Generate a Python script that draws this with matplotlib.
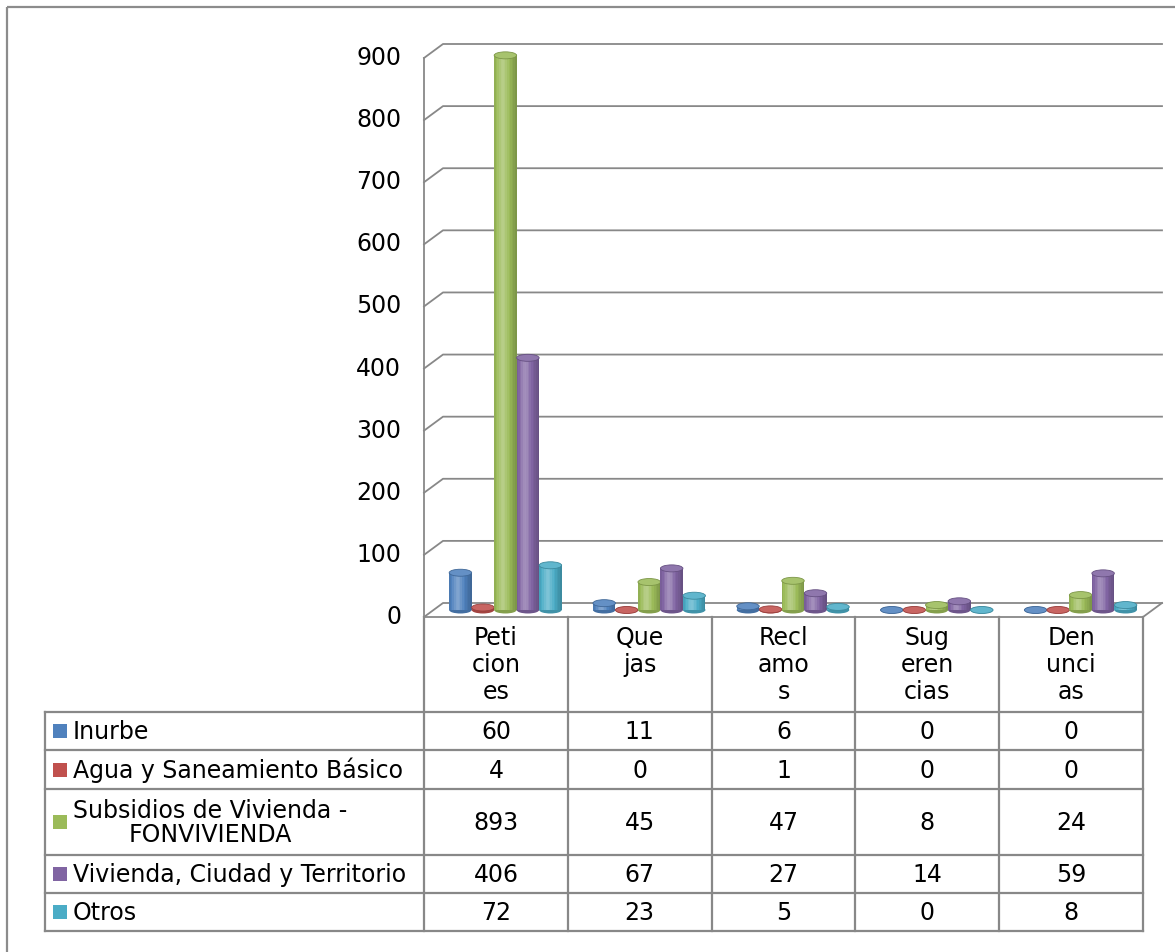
import numpy as np
import matplotlib
matplotlib.use("Agg")
import matplotlib.pyplot as plt
from matplotlib.patches import Ellipse, Rectangle
from matplotlib.colors import to_rgb

categories = ["Peticiones", "Quejas", "Reclamos", "Sugerencias", "Denuncias"]
cat_labels = ["Peti\ncion\nes", "Que\njas", "Recl\namo\ns", "Sug\neren\ncias", "Den\nunci\nas"]
series = ["Inurbe", "Agua y Saneamiento Básico", "Subsidios de Vivienda -\nFONVIVIENDA",
          "Vivienda, Ciudad y Territorio", "Otros"]
inurbe = [60, 11, 6, 0, 0]
agua = [4, 0, 1, 0, 0]
subsidios = [893, 45, 47, 8, 24]
vivienda = [406, 67, 27, 14, 59]
otros = [72, 23, 5, 0, 8]
values = [inurbe, agua, subsidios, vivienda, otros]
colors = ["#4F81BD", "#C0504D", "#9BBB59", "#8064A2", "#4BACC6"]
yticks = list(range(0, 1000, 100))

plt.rcParams['font.family'] = ['DejaVu Sans']
W, H = 1175, 952
FS = 17
fig = plt.figure(figsize=(W / 100, H / 100), dpi=100)

# layout in pixels (front plane of the 3d box)
X0, X1 = 424, 1143
Y0, YT = 617, 58
DX, DY = 19, 14
GRID = "#888888"

frame = fig.add_axes([0, 0, 1, 1])
frame.set_xlim(0, W)
frame.set_ylim(H, 0)
frame.axis("off")
frame.add_patch(Rectangle((7, 7), W, H, fill=False, ec="#8c8c8c", lw=1.6))

# axes on the middle plane of the box
ax = fig.add_axes([(X0 + DX / 2) / W, (H - (Y0 - DY / 2)) / H,
                   (X1 - X0) / W, (Y0 - YT) / H])
ax.set_xlim(-0.5, len(categories) - 0.5)
ax.set_ylim(0, 900)
ax.axis("off")
ax.patch.set_alpha(0)

px_x = (X1 - X0) / len(categories)
px_y = (Y0 - YT) / 900.0
ddx = DX / 2 / px_x
ddy = DY / 2 / px_y
xl, xr = -0.5, len(categories) - 0.5

for v in yticks:
    ax.plot([xl - ddx, xl + ddx, xr + ddx], [v - ddy, v + ddy, v + ddy],
            color=GRID, lw=1.3, clip_on=False, zorder=1)
    ax.text(xl - ddx - 23 / px_x, v - ddy, str(v), ha="right", va="center",
            fontsize=FS, clip_on=False)
ax.plot([xl - ddx, xl - ddx], [-ddy, 900 - ddy], color=GRID, lw=1.3, clip_on=False, zorder=1)
ax.plot([xl - ddx, xr - ddx, xr + ddx], [-ddy, -ddy, ddy], color=GRID, lw=1.3,
        clip_on=False, zorder=1)

# cylinders
n = len(series)
bw = 22.5 / px_x
eh = 7 / px_y
nstrip = 14
t = (np.arange(nstrip) + 0.5) / nstrip


def shade(c, f):
    c = np.array(to_rgb(c))
    if f >= 0:
        return tuple(c + (1 - c) * f)
    return tuple(c * (1 + f))


for j, (vals, col) in enumerate(zip(values, colors)):
    for i, v in enumerate(vals):
        xc = i + (j - (n - 1) / 2) * bw
        z = 3 + j * 0.01
        ax.add_patch(Ellipse((xc, 0), bw, eh, fc=shade(col, -0.15), ec="none",
                             zorder=z, clip_on=False))
        if v > 0:
            for k, tk in enumerate(t):
                f = 0.28 * np.exp(-((tk - 0.38) / 0.22) ** 2) - 0.22 * (abs(tk - 0.4) / 0.6) ** 2
                ax.bar(xc - bw / 2 + tk * bw, v, width=bw / nstrip * 1.05,
                       color=shade(col, f), lw=0, zorder=z, clip_on=False)
        ax.add_patch(Ellipse((xc, v), bw, eh, fc=shade(col, 0.12), ec=shade(col, -0.2),
                             lw=0.6, zorder=z + 0.001, clip_on=False))

# data table
cols = np.linspace(X0, X1, len(categories) + 1)
rows = [712, 750, 789, 855, 893, 931]
TL = 45
for x in cols:
    frame.plot([x, x], [Y0, rows[-1]], color=GRID, lw=1.6)
frame.plot([TL, TL], [rows[0], rows[-1]], color=GRID, lw=1.6)
for y in rows:
    frame.plot([TL, X1], [y, y], color=GRID, lw=1.6)

for i, lab in enumerate(cat_labels):
    frame.text((cols[i] + cols[i + 1]) / 2, 626, lab, ha="center", va="top",
               fontsize=FS, linespacing=1.15)

for j, (name, vals, col) in enumerate(zip(series, values, colors)):
    yc = (rows[j] + rows[j + 1]) / 2
    frame.add_patch(Rectangle((53, yc - 7), 14, 14, fc=col, ec="none"))
    frame.text(73, yc + 1, name, ha="left", va="center", fontsize=FS,
               multialignment="center", linespacing=1.0)
    for i, v in enumerate(vals):
        frame.text((cols[i] + cols[i + 1]) / 2, yc + 1, str(v), ha="center",
                   va="center", fontsize=FS)

fig.savefig("out.png", dpi=100)
